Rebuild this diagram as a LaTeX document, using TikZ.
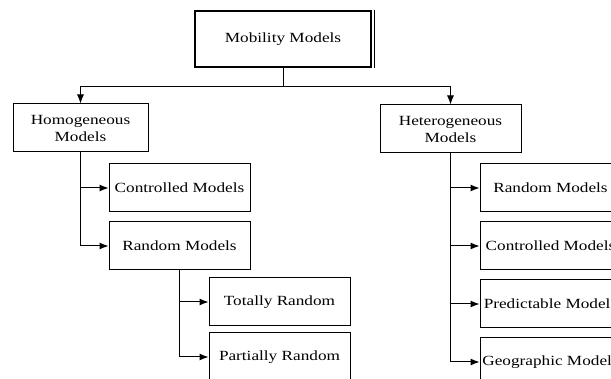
\documentclass[tikz,border=0pt]{standalone}
\usepackage{fontspec}
\setmainfont{Liberation Serif}[FakeStretch=1.23]
\usepackage{tikz}
\usetikzlibrary{positioning,calc,arrows.meta}
\tikzset{block/.style={draw,line width=1pt,minimum width=141pt,minimum height=48pt,inner sep=0pt,align=center,font=\fontsize{14}{17}\selectfont},
         mainblock/.style={block,line width=2.4pt,minimum width=176pt,minimum height=56pt}
}
\tikzstyle{arrow} = [line width=1pt,-{Latex[length=9pt,width=7pt]}]
\begin{document}
\begin{tikzpicture}[x=1pt,y=-1pt]

\clip (0,0) rectangle (611,379);
\node[mainblock] (mobility) at (283,39) {Mobility Models};
\node[block,minimum width=135pt] (homo) at (80.5,128) {Homogeneous\\Models};
\node[block] (hetero) at (450.5,129) {Heterogeneous\\Models};
\node[block] (hoctrl) at (179.5,188) {Controlled Models};
\node[block,below=9pt of hoctrl] (horand) {Random Models};
\node[block] (totally) at (279.5,302) {Totally Random};
\node[block,below=6pt of totally] (partially) {Partially Random};
\node[block] (herand) at (550.5,188) {Random Models};
\node[block,below=9pt of herand] (hectrl) {Controlled Models};
\node[block,below=9pt of hectrl] (hepred) {Predictable Models};
\node[block,below=9pt of hepred] (hegeo) {Geographic Models};
\draw[line width=0.8pt] ([xshift=2pt]mobility.north east)--([xshift=2pt]mobility.south east);
\draw[arrow] (mobility.south)--++(0,18)-|(homo.north);
\draw[arrow] (mobility.south)--++(0,18)-|(hetero.north);
\draw[arrow] (homo.south)|-(hoctrl.west);
\draw[arrow] (homo.south)|-(horand.west);
\draw[arrow] (horand.south)|-(totally.west);
\draw[arrow] (horand.south)|-(partially.west);
\draw[arrow] (hetero.south)|-(herand.west);
\draw[arrow] (hetero.south)|-(hectrl.west);
\draw[arrow] (hetero.south)|-(hepred.west);
\draw[arrow] (hetero.south)|-(hegeo.west);

\end{tikzpicture}
\end{document}
